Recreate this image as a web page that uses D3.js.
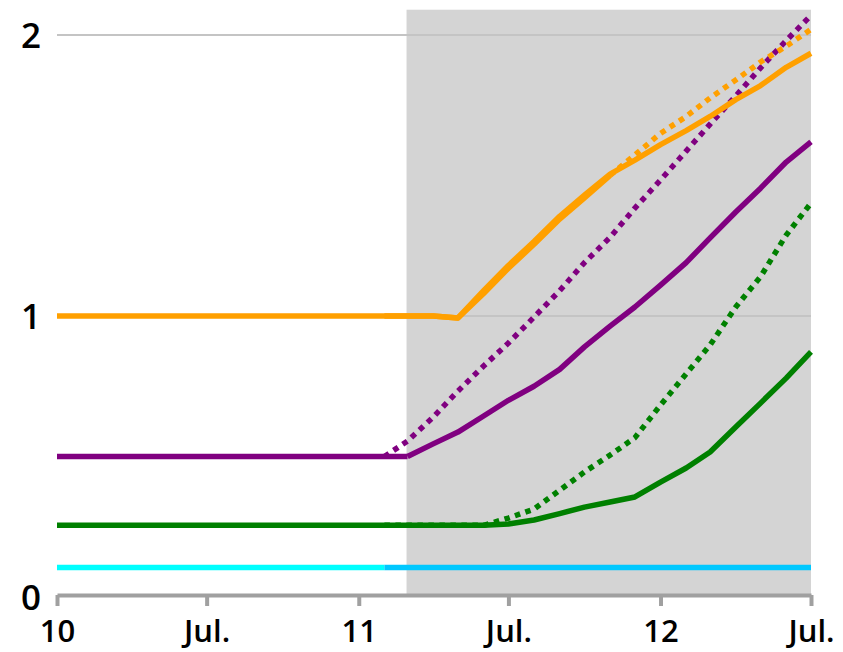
<!DOCTYPE html>
<html><head><meta charset="utf-8">
<script src="https://cdn.jsdelivr.net/npm/d3@7"></script>
<style>
html,body{margin:0;padding:0;background:#fff;}
svg{display:block;}
text{font-family:"Open Sans","Noto Sans",sans-serif;font-weight:600;fill:#000;}
</style></head>
<body><svg id="c" width="843" height="652"></svg>
<script>
// Monthly dates 2010-01 .. 2012-07 (31 months)
const months = d3.range(31).map(i => new Date(2010, i, 1));
const xTickDates = ["2010-01-01","2010-07-01","2011-01-01","2011-07-01","2012-01-01","2012-07-01"];
const xTickLabels = ["10","Jul.","11","Jul.","12","Jul."];
const yTicks = [0, 1, 2];
const shadeStart = "2011-03-01";
const shadeEnd = "2012-07-01";
const N = null;
const flat = (v, n) => Array(n).fill(v);

// index 0=2010-01 ... 13=2011-02, 14=2011-03, 22=2011-11, 24=2012-01, 30=2012-07
const cyanHist = [...flat(0.105, 14), ...flat(N, 17)];
const blueFcst = [...flat(N, 13), ...flat(0.105, 18)];

const greenHist = [...flat(0.255, 15), ...flat(N, 16)];
const greenSolid = [...flat(N, 14), 0.255, 0.255, 0.255, 0.255, 0.26, 0.274, 0.297, 0.32, 0.338, 0.356, 0.409, 0.459, 0.516, 0.605, 0.69, 0.779, 0.872];
const greenDotted = [...flat(N, 13), 0.255, 0.255, 0.255, 0.255, 0.255, 0.281, 0.313, 0.38, 0.445, 0.505, 0.567, 0.683, 0.794, 0.897, 1.032, 1.14, 1.288, 1.402];

const purpleHist = [...flat(0.5, 15), ...flat(N, 16)];
const purpleSolid = [...flat(N, 14), 0.5, 0.545, 0.587, 0.644, 0.70, 0.75, 0.81, 0.89, 0.964, 1.032, 1.11, 1.19, 1.278, 1.37, 1.455, 1.548, 1.62];
const purpleDotted = [...flat(N, 13), 0.5, 0.555, 0.64, 0.733, 0.822, 0.904, 0.996, 1.09, 1.19, 1.28, 1.384, 1.484, 1.587, 1.683, 1.783, 1.883, 1.98, 2.07];

const orangeActual = [...flat(1.0, 16), 0.993, 1.08, 1.17, 1.255, 1.345, 1.42, 1.50, ...flat(N, 8)];
const orangeSolid = [...flat(N, 13), 1.0, 1.0, 1.0, 0.993, 1.09, 1.18, 1.265, 1.355, 1.43, 1.505, 1.555, 1.61, 1.66, 1.71, 1.77, 1.82, 1.885, 1.935];
const orangeDotted = [...flat(N, 22), 1.50, 1.573, 1.65, 1.71, 1.776, 1.84, 1.904, 1.96, 2.02];

const series = [
  {v: cyanHist, c: "#00ffff", d: null},
  {v: blueFcst, c: "#00c8ff", d: null},
  {v: greenHist, c: "#008000", d: null},
  {v: greenSolid, c: "#008000", d: null},
  {v: greenDotted, c: "#008000", d: "5.5,5.5"},
  {v: purpleHist, c: "#800080", d: null},
  {v: purpleSolid, c: "#800080", d: null},
  {v: purpleDotted, c: "#800080", d: "5.5,5.5"},
  {v: orangeActual, c: "#ffa000", d: null},
  {v: orangeSolid, c: "#ffa000", d: null},
  {v: orangeDotted, c: "#ffa000", d: "5.5,5.5"}
];

const svg = d3.select("#c");
const x = d3.scaleTime().domain([new Date(2010,0,1), new Date(2012,6,1)]).range([57, 811]);
const y = d3.scaleLinear().domain([0, 2]).range([597, 35]);

// shaded forecast area
svg.append("rect")
  .attr("x", x(new Date(shadeStart)) - 1)
  .attr("y", y(2.09))
  .attr("width", x(new Date(shadeEnd)) - x(new Date(shadeStart)) + 1)
  .attr("height", y(0) - y(2.09))
  .attr("fill", "#d4d4d4");

// gridlines
svg.selectAll("line.grid").data(yTicks.filter(d => d > 0)).enter().append("line")
  .attr("x1", x.range()[0]).attr("x2", x.range()[1])
  .attr("y1", d => y(d)).attr("y2", d => y(d))
  .attr("stroke", "#c4c4c4").attr("stroke-width", 2);

// y labels
svg.selectAll("text.yl").data(yTicks).enter().append("text")
  .attr("x", 31).attr("y", d => y(d))
  .attr("dy", "0.36em")
  .attr("text-anchor", "middle")
  .style("font-size", "35px")
  .text(d => d);

// lines
const line = d3.line()
  .defined(d => d.v !== null)
  .x(d => x(d.t)).y(d => y(d.v));

series.forEach(s => {
  svg.append("path")
    .datum(months.map((t, i) => ({t, v: s.v[i]})))
    .attr("d", line)
    .attr("fill", "none")
    .attr("stroke", s.c)
    .attr("stroke-width", 5.5)
    .attr("stroke-dasharray", s.d)
    .attr("stroke-linejoin", "round");
});

// x axis
const ax = d3.axisBottom(x)
  .tickValues(xTickDates.map(d => new Date(d + "T00:00:00")))
  .tickFormat((d, i) => xTickLabels[i])
  .tickSize(11).tickSizeOuter(0).tickPadding(14);
const g = svg.append("g").attr("transform", `translate(0,${y(0) - 2})`).call(ax);
g.select(".domain").attr("stroke", "#a0a0a0").attr("stroke-width", 4);
g.selectAll(".tick line").attr("stroke", "#a0a0a0").attr("stroke-width", 4);
g.selectAll(".tick text").style("font-size", "31px").style("font-family", "'Open Sans','Noto Sans',sans-serif").style("font-weight", 600).attr("fill", "#000");
</script></body></html>
